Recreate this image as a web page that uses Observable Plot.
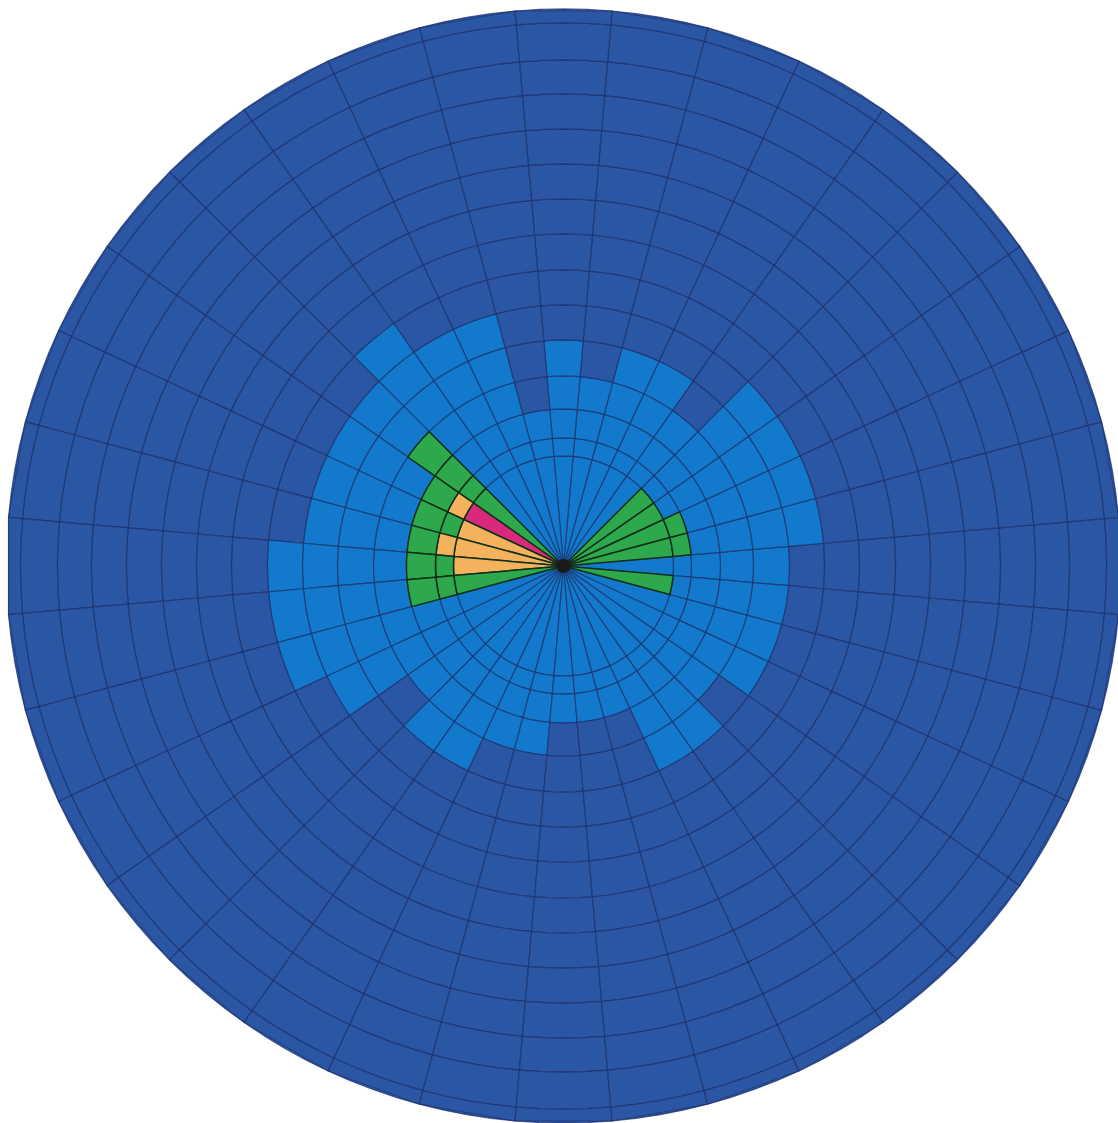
<!DOCTYPE html>
<html>
<head>
<meta charset="utf-8">
<script src="https://cdn.jsdelivr.net/npm/d3@7"></script>
<script src="https://cdn.jsdelivr.net/npm/@observablehq/plot@0.6"></script>
<style>
  body { margin: 0; background: #ffffff; font-family: "Noto Sans", sans-serif; }
  #chart { width: 1118px; height: 1123px; }
</style>
</head>
<body>
<div id="chart"></div>
<script>
// ---- data ----
// sector centre directions (degrees, counter-clockwise from east), 10° each
const sectors = [0, 10, 20, 30, 40, 50, 60, 70, 80, 90, 100, 110, 120, 130, 140, 150, 160, 170,
                 180, 190, 200, 210, 220, 230, 240, 250, 260, 270, 280, 290, 300, 310, 320, 330, 340, 350];
const sectorWidth = 10;
// ring boundaries (distance units from the centre)
const ringEdges = [0, 110, 128, 157, 190, 226, 261, 296, 332, 367, 402, 437, 472, 506, 543, 557];
// outermost ring index that is still "low" (light blue) for each sector
const lowMaxRing = [4, 5, 5, 5, 5, 3, 4, 4, 3, 4, 2, 5, 5, 6, 5, 5, 5, 5,
                    6, 6, 6, 5, 3, 4, 4, 3, 3, 2, 2, 2, 4, 4, 3, 4, 4, 4];
// cells with higher levels: [sector, ring]
const moderateCells = [[140,0],[140,1],[140,2],[140,3],[150,2],[160,1],[160,2],[170,2],[180,1],[180,2],
                       [190,0],[190,1],[190,2],[10,0],[10,1],[20,0],[20,1],[30,0],[40,0],[350,0]];
const highCells = [[150,1],[160,0],[170,0],[170,1],[180,0]];
const veryHighCells = [[150,0]];

const levels = ["very low", "low", "moderate", "high", "very high"];
const levelColors = ["#2b56a3", "#1279cc", "#2ea84c", "#f4b25c", "#d8297c"];

// ---- geometry helpers ----
function pt(r, deg) {
  const a = deg * Math.PI / 180;
  return [r * Math.cos(a), -r * Math.sin(a)];
}
function cellPolygon(center, r0, r1) {
  const a0 = center - sectorWidth / 2, a1 = center + sectorWidth / 2;
  const steps = 4;
  const ring = [];
  for (let i = 0; i <= steps; i++) ring.push(pt(r1, a0 + (a1 - a0) * i / steps));
  if (r0 === 0) ring.push([0, 0]);
  else for (let i = steps; i >= 0; i--) ring.push(pt(r0, a0 + (a1 - a0) * i / steps));
  ring.push(ring[0]);
  return ring;
}

const special = new Map();
for (const [s, k] of moderateCells) special.set(s + ":" + k, "moderate");
for (const [s, k] of highCells) special.set(s + ":" + k, "high");
for (const [s, k] of veryHighCells) special.set(s + ":" + k, "very high");

const blueCells = [], fanCells = [];
sectors.forEach((s, i) => {
  for (let k = 0; k < ringEdges.length - 1; k++) {
    const key = s + ":" + k;
    const level = special.get(key) ?? (k <= lowMaxRing[i] ? "low" : "very low");
    const f = {type: "Feature", properties: {sector: s, ring: k, level},
               geometry: {type: "Polygon", coordinates: [cellPolygon(s, ringEdges[k], ringEdges[k + 1])]}};
    (special.has(key) ? fanCells : blueCells).push(f);
  }
});

const outerR = ringEdges[ringEdges.length - 1];
const outline = {type: "Polygon", coordinates: [sectors.concat([360]).map(a => pt(outerR, a - sectorWidth / 2))]};

const chart = Plot.plot({
  width: 1118,
  height: 1123,
  marginLeft: 8, marginTop: 8, marginRight: 0, marginBottom: 0,
  projection: {type: "identity", domain: outline},
  color: {domain: levels, range: levelColors},
  marks: [
    Plot.geo(blueCells, {fill: d => d.properties.level, stroke: "#1b2d68", strokeOpacity: 0.7, strokeWidth: 1.2}),
    Plot.geo(outline, {fill: "none", stroke: "#1b2d68", strokeOpacity: 0.6, strokeWidth: 1}),
    Plot.geo(fanCells, {fill: d => d.properties.level, stroke: "#10301a", strokeWidth: 1.5}),
    Plot.geo({type: "Point", coordinates: [0, 0]}, {r: 7, fill: "#1a1a1a"})
  ]
});
document.getElementById("chart").append(chart);
</script>
</body>
</html>
